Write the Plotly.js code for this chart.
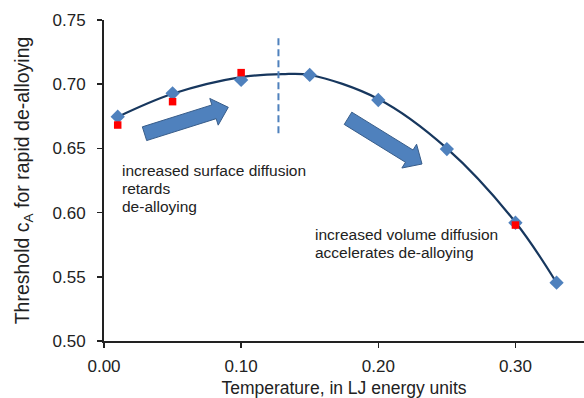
<!DOCTYPE html>
<html>
<head>
<meta charset="utf-8">
<script src="https://cdn.plot.ly/plotly-3.0.1.min.js"></script>
<style>html,body{margin:0;padding:0;background:#fff;}#chart{width:584px;height:398px;}</style>
</head>
<body>
<div id="chart"></div>
<script>
// Simulation data (blue diamonds)
const simTemp = [0.01, 0.05, 0.10, 0.15, 0.20, 0.25, 0.30, 0.33];
const simThreshold = [0.6747, 0.6929, 0.7033, 0.7072, 0.6877, 0.6495, 0.5921, 0.5454];
// Second data set (red squares)
const altTemp = [0.01, 0.05, 0.10, 0.30];
const altThreshold = [0.6682, 0.6864, 0.709, 0.5903];
// Trend curve
const fitTemp = [0.01, 0.05, 0.10, 0.13, 0.15, 0.20, 0.25, 0.30, 0.33];
const fitThreshold = [0.6745, 0.6925, 0.7055, 0.7078, 0.7072, 0.6885, 0.6500, 0.5925, 0.5454];
// Dashed divider
const dividerTemp = [0.1272, 0.1272];
const dividerThreshold = [0.7357, 0.6604];
const xTicks = [0, 0.1, 0.2, 0.3];
const xTickText = ['0.00', '0.10', '0.20', '0.30'];
const yTicks = [0.5, 0.55, 0.6, 0.65, 0.7, 0.75];
const yTickText = ['0.50', '0.55', '0.60', '0.65', '0.70', '0.75'];
const noteSurface = ['increased surface diffusion', 'retards', 'de-alloying'];
const noteVolume = ['increased volume diffusion', 'accelerates de-alloying'];

const W = 584, H = 398, ML = 104, MR = 0, MT = 20, MB = 57;
const XR = [0, 0.35], YR = [0.5, 0.75];
function px2x(p){ return XR[0] + (p - ML) / (W - ML - MR) * (XR[1] - XR[0]); }
function py2y(p){ return YR[1] - (p - MT) / (H - MT - MB) * (YR[1] - YR[0]); }
function blockArrow(tail, tip, sh, hh, hl){
  const dx = tip[0]-tail[0], dy = tip[1]-tail[1];
  const L = Math.hypot(dx, dy), ux = dx/L, uy = dy/L, nx = -uy, ny = ux;
  const b = [tip[0]-ux*hl, tip[1]-uy*hl];
  const pts = [
    [tail[0]+nx*sh, tail[1]+ny*sh],
    [b[0]+nx*sh, b[1]+ny*sh],
    [b[0]+nx*hh, b[1]+ny*hh],
    tip,
    [b[0]-nx*hh, b[1]-ny*hh],
    [b[0]-nx*sh, b[1]-ny*sh],
    [tail[0]-nx*sh, tail[1]-ny*sh]
  ];
  return 'M' + pts.map(p => px2x(p[0]) + ',' + py2y(p[1])).join(' L') + ' Z';
}

const traces = [
  {x: fitTemp, y: fitThreshold, mode: 'lines', line: {color: '#17375E', width: 2.2, shape: 'spline', smoothing: 1}, hoverinfo: 'skip', showlegend: false},
  {x: simTemp, y: simThreshold, mode: 'markers', marker: {symbol: 'diamond', size: 11, color: '#4F81BD'}, showlegend: false},
  {x: altTemp, y: altThreshold, mode: 'markers', marker: {symbol: 'square', size: 7.5, color: '#FF0000'}, showlegend: false},
  {x: dividerTemp, y: dividerThreshold, mode: 'lines', line: {color: '#4F81BD', width: 2, dash: '7px,4px'}, hoverinfo: 'skip', showlegend: false}
];

const annotations = [];
noteSurface.forEach((t, i) => annotations.push({
  xref: 'x', yref: 'y', x: px2x(120), y: py2y(170 + 18 * i), xanchor: 'left', yanchor: 'middle', align: 'left',
  showarrow: false, text: t, font: {size: 15.5, color: '#222'}
}));
noteVolume.forEach((t, i) => annotations.push({
  xref: 'x', yref: 'y', x: px2x(313), y: py2y(234 + 18.5 * i), xanchor: 'left', yanchor: 'middle', align: 'left',
  showarrow: false, text: t, font: {size: 15.5, color: '#222'}
}));

const layout = {
  width: W, height: H,
  margin: {l: ML, r: MR, t: MT, b: MB},
  paper_bgcolor: '#fff', plot_bgcolor: '#fff',
  font: {family: 'Liberation Sans, Arial, sans-serif', color: '#222'},
  xaxis: {
    range: XR, tickvals: xTicks, ticktext: xTickText,
    showgrid: false, zeroline: false, showline: true, linecolor: '#222', linewidth: 2,
    ticks: 'outside', ticklen: 5, tickcolor: '#222', tickwidth: 1.5,
    ticklabelstandoff: 4,
    tickfont: {size: 17, color: '#222'},
    title: {text: 'Temperature, in LJ energy units', font: {size: 17.5, color: '#222'}, standoff: 15}
  },
  yaxis: {
    range: YR, tickvals: yTicks, ticktext: yTickText,
    showgrid: false, zeroline: false, showline: true, linecolor: '#222', linewidth: 2,
    ticks: 'outside', ticklen: 5, tickcolor: '#222', tickwidth: 1.5,
    ticklabelstandoff: 8,
    tickfont: {size: 17, color: '#222'},
    title: {text: 'Threshold c<sub>A</sub> for rapid de-alloying', font: {size: 19.5, color: '#222'}, standoff: 18}
  },
  shapes: [
    {type: 'path', xref: 'x', yref: 'y', path: blockArrow([144.5, 133.7], [228.3, 107.3], 7.2, 14, 15), fillcolor: '#4F81BD', line: {color: '#385D8A', width: 1}},
    {type: 'path', xref: 'x', yref: 'y', path: blockArrow([348, 118.3], [422, 164], 7.2, 14, 15), fillcolor: '#4F81BD', line: {color: '#385D8A', width: 1}}
  ],
  annotations: annotations
};

Plotly.newPlot('chart', traces, layout, {displayModeBar: false, staticPlot: true});
</script>
</body>
</html>
